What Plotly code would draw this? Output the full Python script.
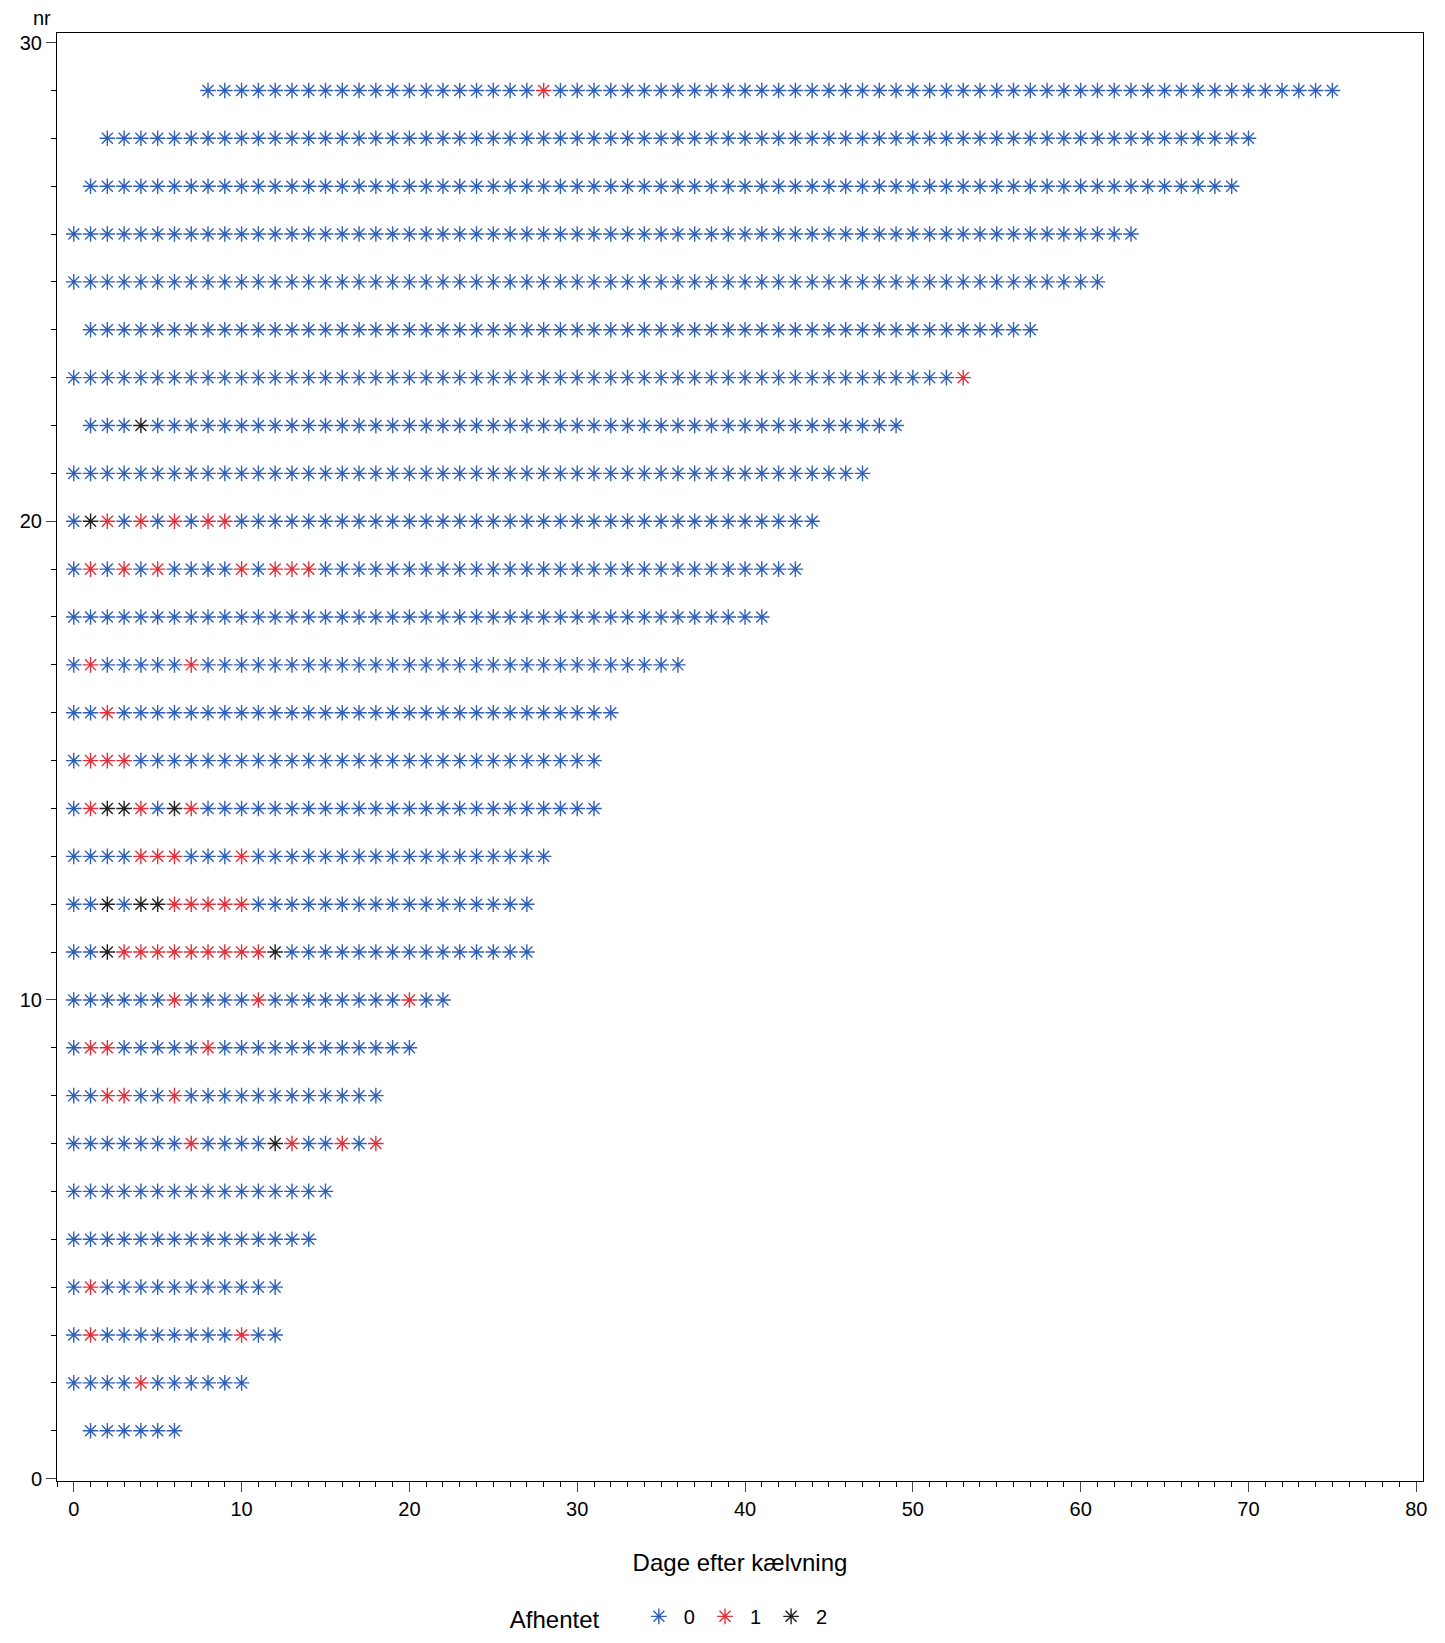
import plotly.graph_objects as go

# observation period per cow (nr 1..29): first and last day after calving
nr = list(range(1, 30))
first_day = [1, 0, 0, 0, 0, 0, 0, 0, 0, 0, 0, 0, 0, 0, 0, 0, 0, 0, 0, 0, 0, 1, 0, 1, 0, 0, 1, 2, 8]
last_day = [6, 10, 12, 12, 14, 15, 18, 18, 20, 22, 27, 27, 28, 31, 31, 32, 36, 41, 43, 44, 47, 49, 53, 57, 61, 63, 69, 70, 75]

# days with Afhentet = 1 (red) and = 2 (black)
days_1 = {2: [4], 3: [1, 10], 4: [1], 7: [7, 13, 16, 18], 8: [2, 3, 6], 9: [1, 2, 8],
          10: [6, 11, 20], 11: [3, 4, 5, 6, 7, 8, 9, 10, 11], 12: [6, 7, 8, 9, 10],
          13: [4, 5, 6, 10], 14: [1, 4, 7], 15: [1, 2, 3], 16: [2], 17: [1, 7],
          19: [1, 3, 5, 10, 12, 13, 14], 20: [2, 4, 6, 8, 9], 23: [53], 29: [28]}
days_2 = {7: [12], 11: [2, 12], 12: [2, 4, 5], 14: [2, 3, 6], 20: [1], 22: [4]}

xs = {0: [], 1: [], 2: []}
ys = {0: [], 1: [], 2: []}
for n, a, b in zip(nr, first_day, last_day):
    for d in range(a, b + 1):
        g = 1 if d in days_1.get(n, []) else 2 if d in days_2.get(n, []) else 0
        xs[g].append(d)
        ys[g].append(n)

colors = {0: '#2f5fb8', 1: '#e0303c', 2: '#222222'}
fig = go.Figure()
for g in [0, 1, 2]:
    fig.add_trace(go.Scatter(x=xs[g], y=ys[g], mode='markers', name=str(g),
                             marker=dict(symbol='asterisk-open', size=13, color=colors[g],
                                         line=dict(color=colors[g], width=1.4))))

fig.update_layout(
    width=1445, height=1643, plot_bgcolor='white', paper_bgcolor='white',
    font=dict(family='Liberation Sans, Arial', size=20, color='black'),
    margin=dict(l=31, r=30, t=25, b=160),
    xaxis=dict(range=[-1, 80.4], tickvals=list(range(0, 81, 10)), ticks='outside', ticklen=10,
               showgrid=False, zeroline=False, showline=True, linecolor='black', mirror=True,
               minor=dict(dtick=1, ticks='outside', ticklen=5, tickcolor='black'),
               title=dict(text='Dage efter kælvning', standoff=35)),
    yaxis=dict(range=[-0.05, 30.2], tickvals=[0, 10, 20, 30], ticks='outside', ticklen=10,
               showgrid=False, zeroline=False, showline=True, linecolor='black', mirror=True,
               minor=dict(dtick=1, ticks='outside', ticklen=5, tickcolor='black')),
    legend=dict(orientation='h', x=0.33, y=-0.08, xanchor='left', yanchor='top',
                title=dict(text='Afhentet    '), itemwidth=40),
)
fig.add_annotation(text='nr', xref='paper', yref='paper', x=0, xshift=-26, y=1.0, yshift=2,
                   xanchor='left', yanchor='bottom', showarrow=False)

fig.write_html("out.html")
